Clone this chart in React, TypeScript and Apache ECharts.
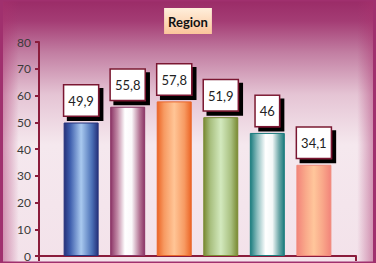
import React, { useEffect, useRef } from "react";
import * as echarts from "echarts";

const categories = ["Region"];
const seriesNames = ["S1", "S2", "S3", "S4", "S5", "S6"];
const values = [49.9, 55.8, 57.8, 51.9, 46, 34.1];
const yTicks = { min: 0, max: 80, interval: 10 };

const barGradients: [number, string][][] = [
  [[0, "#25317a"], [0.18, "#3f5fae"], [0.5, "#a9c9ef"], [0.82, "#4a6fb6"], [1, "#25317a"]],
  [[0, "#8c3566"], [0.2, "#c28aa6"], [0.42, "#ffffff"], [0.62, "#fbf8fa"], [0.85, "#b57595"], [1, "#8c3566"]],
  [[0, "#ec6526"], [0.2, "#f79a62"], [0.5, "#ffc596"], [0.8, "#f79a62"], [1, "#ec6526"]],
  [[0, "#7a8a33"], [0.2, "#a9c080"], [0.5, "#d3e9be"], [0.8, "#a9c080"], [1, "#7a8a33"]],
  [[0, "#1b7c7e"], [0.2, "#8bbcbd"], [0.45, "#ffffff"], [0.65, "#f4f8f8"], [0.85, "#6aa6a7"], [1, "#1b7c7e"]],
  [[0, "#f2847a"], [0.25, "#f9a88a"], [0.5, "#ffc69b"], [0.75, "#f9a88a"], [1, "#f2847a"]],
];
const barBorders = ["#27337c", "#8c3566", "#e9662a", "#7a8a33", "#1b7c7e", "#f08a7c"];

function grad(stops: [number, string][]) {
  return new echarts.graphic.LinearGradient(
    0, 0, 1, 0,
    stops.map(([offset, color]) => ({ offset, color }))
  );
}

export default function App() {
  const ref = useRef<HTMLDivElement>(null);
  useEffect(() => {
    document.body.style.margin = "0";
    if (!ref.current) return;
    const chart = echarts.init(ref.current, undefined, { renderer: "svg" });
    const font = "Lato, 'Open Sans', sans-serif";
    chart.setOption({
      animation: false,
      textStyle: { fontFamily: font },
      graphic: [
        {
          type: "rect",
          z: -100,
          silent: true,
          shape: { x: 0, y: 0, width: 376, height: 263 },
          style: {
            fill: new echarts.graphic.LinearGradient(0, 0, 0, 1, [
              { offset: 0, color: "#9a2b67" },
              { offset: 0.08, color: "#a43c74" },
              { offset: 0.2, color: "#c27ea2" },
              { offset: 0.36, color: "#e5c4d4" },
              { offset: 0.55, color: "#f5e8ee" },
              { offset: 1, color: "#f3e2ea" },
            ]),
          },
        },
        {
          type: "rect",
          z: -99,
          silent: true,
          shape: { x: 0, y: 0, width: 376, height: 263 },
          style: {
            fill: new echarts.graphic.LinearGradient(0, 0, 1, 0, [
              { offset: 0, color: "rgba(170,50,110,0.55)" },
              { offset: 0.05, color: "rgba(170,50,110,0)" },
              { offset: 0.95, color: "rgba(170,50,110,0)" },
              { offset: 1, color: "rgba(170,50,110,0.55)" },
            ]),
          },
        },
        {
          type: "rect",
          z: -98,
          silent: true,
          shape: { x: 1.5, y: 0, width: 373, height: 263 },
          style: { fill: "none", stroke: "#a0306e", lineWidth: 3 },
        },
      ],
      title: {
        text: "Region",
        left: "center",
        top: 8,
        padding: [7, 4, 6, 4],
        backgroundColor: new echarts.graphic.LinearGradient(0, 0, 0, 1, [
          { offset: 0, color: "#ffefdc" },
          { offset: 1, color: "#fbc59b" },
        ]),
        textStyle: { fontFamily: font, fontSize: 13, fontWeight: "bold", color: "#111" },
      },
      grid: { left: 39, right: 20, top: 42, bottom: 7, containLabel: false },
      xAxis: {
        type: "category",
        data: categories,
        axisLine: { lineStyle: { color: "#8a1c3c", width: 2 } },
        axisTick: { show: true, length: 5, lineStyle: { color: "#8a1c3c", width: 2 } },
        axisLabel: { show: false },
      },
      yAxis: {
        type: "value",
        min: yTicks.min,
        max: yTicks.max,
        interval: yTicks.interval,
        axisLine: { show: true, lineStyle: { color: "#8a1c3c", width: 2 } },
        axisTick: { show: true, length: 4, lineStyle: { color: "#8a1c3c", width: 2 } },
        axisLabel: { color: "#3a3a3a", fontSize: 12, margin: 8, fontFamily: font },
        splitLine: { show: false },
      },
      series: values.map((v, i) => ({
        name: seriesNames[i],
        type: "bar",
        data: [v],
        barWidth: 35,
        barGap: "33%",
        itemStyle: {
          color: grad(barGradients[i]),
          borderColor: barBorders[i],
          borderWidth: 1,
        },
        label: {
          show: true,
          position: "top",
          distance: 7,
          formatter: (p: any) => String(p.value).replace(".", ","),
          fontFamily: font,
          fontSize: 13,
          color: "#222",
          backgroundColor: "#ffffff",
          borderColor: "#7a1830",
          borderWidth: 1.5,
          padding: [9, 4, 8, 4],
          shadowColor: "#000000",
          shadowOffsetX: 4,
          shadowOffsetY: 4,
          shadowBlur: 0,
        },
      })),
    });
    return () => chart.dispose();
  }, []);
  return <div ref={ref} style={{ width: 376, height: 263 }} />;
}
